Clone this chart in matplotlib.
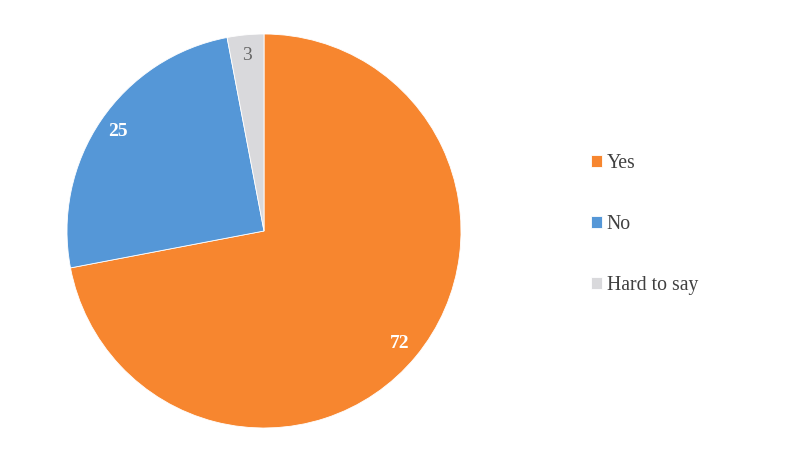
import matplotlib
matplotlib.use("Agg")
import matplotlib.pyplot as plt

categories = ["Yes", "No", "Hard to say"]
values = [72, 25, 3]
colors = ["#F7862F", "#5597D7", "#D9D9DC"]

plt.rcParams['font.family'] = ['Liberation Serif', 'DejaVu Serif']

fig = plt.figure(figsize=(8.10, 4.68), dpi=100)
cx, cy, r = 264, 231, 197
W, H = 810, 468
ax = fig.add_axes([(cx - r) / W, (H - cy - r) / H, 2 * r / W, 2 * r / H])

total = sum(values)
wedges, texts, autotexts = ax.pie(
    values, colors=colors, startangle=90, counterclock=False,
    autopct=lambda p: f"{p * total / 100:.0f}", pctdistance=0.895,
    wedgeprops=dict(edgecolor="white", linewidth=0.6), radius=1.0)
ax.set_xlim(-1, 1)
ax.set_ylim(-1, 1)
ax.set_aspect("equal")

for i, t in enumerate(autotexts):
    if i < 2:
        t.set_color("white")
        t.set_fontweight("bold")
    else:
        t.set_color("#666666")
    t.set_fontsize(14)

leg = fig.legend(wedges, categories, loc="center left",
                 bbox_to_anchor=(573 / W, 1 - 224.5 / H), frameon=False,
                 fontsize=14.2, labelspacing=2.12, handlelength=0.55,
                 handleheight=0.55, handletextpad=0.25, labelcolor="#404040")

fig.savefig("out.png", dpi=100, facecolor="white")
